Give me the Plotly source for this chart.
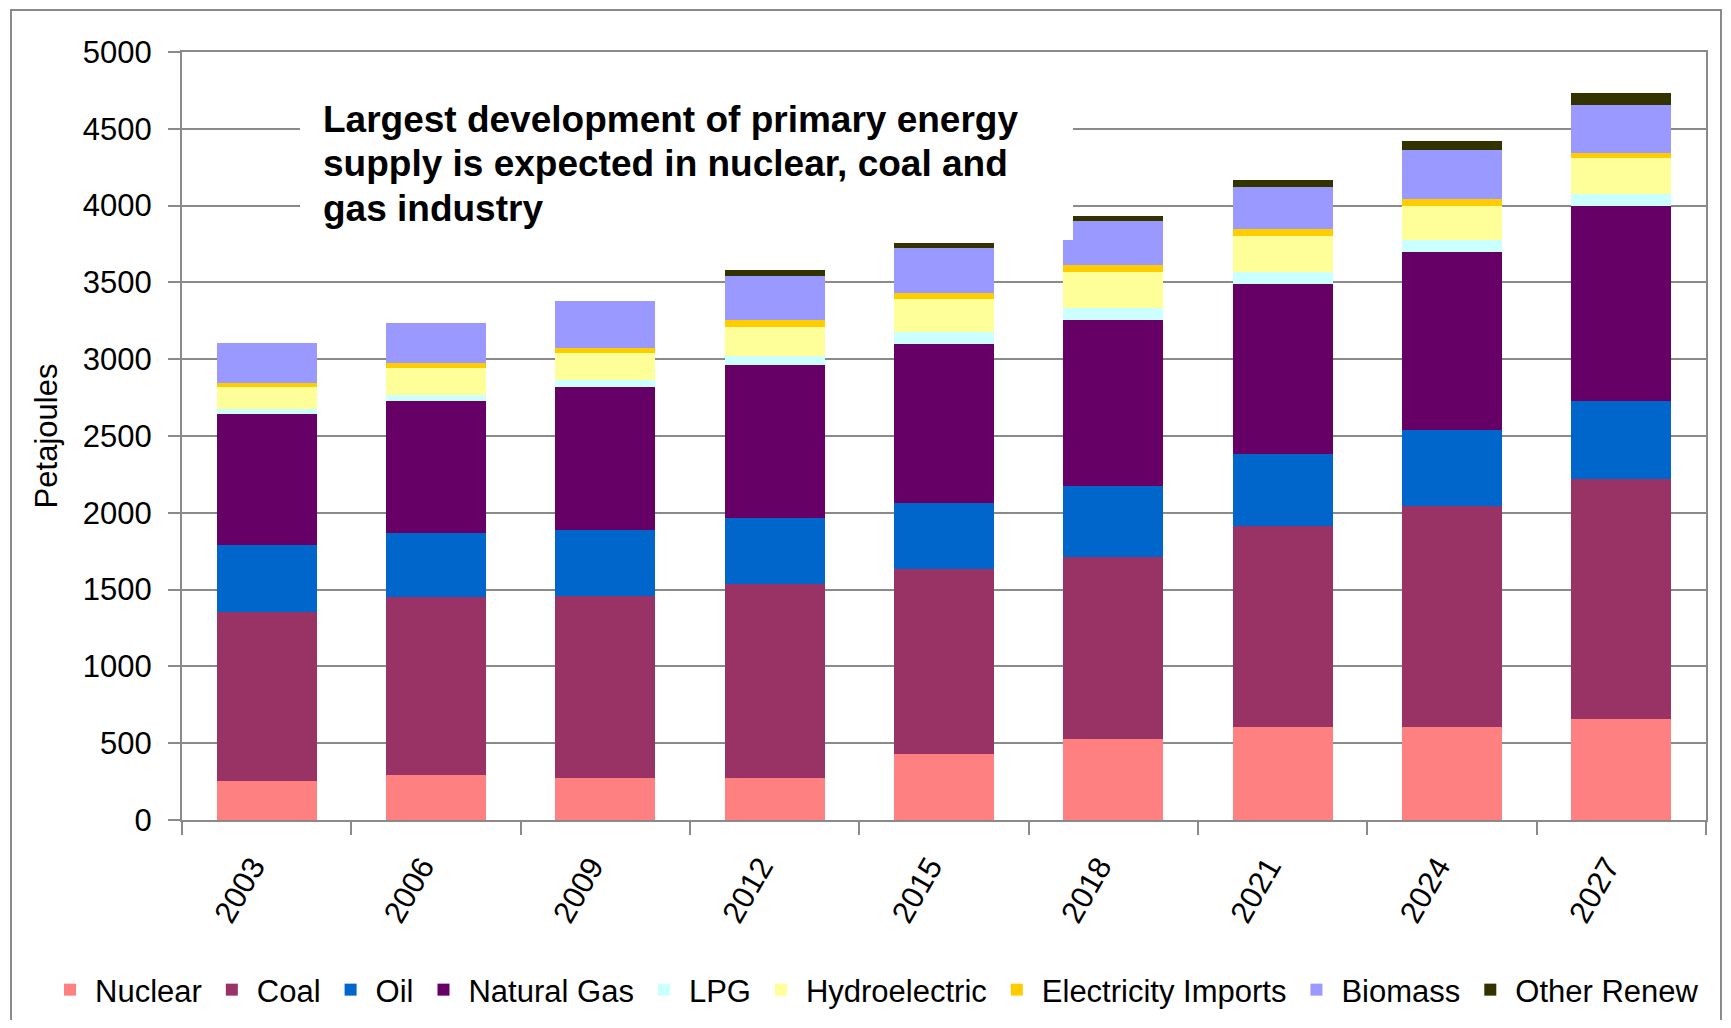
import plotly.graph_objects as go

years = ["2003", "2006", "2009", "2012", "2015", "2018", "2021", "2024", "2027"]

nuclear = [252, 295, 273, 273, 427, 527, 605, 605, 659]
coal = [1103, 1160, 1184, 1261, 1205, 1187, 1309, 1440, 1561]
oil = [436, 411, 429, 434, 434, 463, 470, 492, 507]
natural_gas = [851, 863, 933, 997, 1032, 1076, 1105, 1162, 1269]
lpg = [32, 38, 43, 55, 77, 79, 77, 80, 80]
hydro = [144, 178, 179, 192, 216, 233, 235, 219, 234]
elec_imports = [27, 32, 33, 43, 39, 46, 44, 43, 33]
biomass = [261, 260, 302, 289, 293, 289, 275, 324, 312]
other_renew = [0, 0, 0, 35, 32, 32, 44, 56, 76]

series = [
    ("Nuclear", nuclear, "#FF8080"),
    ("Coal", coal, "#993366"),
    ("Oil", oil, "#0066CC"),
    ("Natural Gas", natural_gas, "#660066"),
    ("LPG", lpg, "#CCFFFF"),
    ("Hydroelectric", hydro, "#FFFF99"),
    ("Electricity Imports", elec_imports, "#FFCC00"),
    ("Biomass", biomass, "#9999FF"),
    ("Other Renew", other_renew, "#333300"),
]

y_ticks = list(range(0, 5001, 500))

note_lines = [
    "Largest development of primary energy",
    "supply is expected in nuclear, coal and",
    "gas industry",
]

FONT = "Liberation Sans, Arial, sans-serif"
GRID = "#8a8a8a"
FS = 31

fig = go.Figure()
for name, vals, col in series:
    fig.add_trace(go.Bar(
        name=name, x=years, y=vals,
        marker=dict(color=col, line=dict(width=0)),
    ))

# page has an 8px body margin; figure coordinates = page coordinates - 8
OFF = 8
W, H = 1715, 1012
PL, PR, PT, PB = 182, 1706, 52, 820  # plot area in page pixels
L = PL - OFF
R = W - (PR - OFF)
T = PT - OFF
B = H - (PB - OFF)
pw, ph = W - L - R, H - T - B


def px(xp):
    return (xp - OFF - L) / pw


def py(yp):
    return (H - B - (yp - OFF)) / ph


line_y = [119, 163.5, 208]
annotations = [
    dict(
        xref="paper", yref="paper", x=px(321), y=py(yy), xanchor="left", yanchor="middle",
        align="left", showarrow=False,
        text="<b>" + t + "</b>",
        font=dict(family=FONT, size=37, color="black"),
    )
    for t, yy in zip(note_lines, line_y)
]

fig.update_layout(
    width=W, height=H,
    margin=dict(l=L, r=R, t=T, b=B, autoexpand=False),
    paper_bgcolor="white", plot_bgcolor="white",
    barmode="stack", bargap=0.41,
    font=dict(family=FONT, size=FS, color="black"),
    showlegend=True,
    legend=dict(
        orientation="h", traceorder="normal",
        x=px(45), xanchor="left", y=py(990), yanchor="middle",
        font=dict(family=FONT, size=FS, color="black"),
        bgcolor="rgba(0,0,0,0)",
        itemwidth=40,
    ),
    xaxis=dict(
        type="category", tickson="boundaries",
        ticks="outside", ticklen=13, tickwidth=2, tickcolor=GRID,
        showline=True, linecolor=GRID, linewidth=2, mirror=True,
        showgrid=False, tickangle=-60,
        tickfont=dict(family=FONT, size=FS, color="black"),
        ticklabelstandoff=14, ticklabelshift=-14,
        automargin=False,
    ),
    yaxis=dict(
        range=[0, 5000], tickvals=y_ticks,
        ticks="outside", ticklen=12, tickwidth=2, tickcolor=GRID,
        showline=True, linecolor=GRID, linewidth=2, mirror=True,
        showgrid=True, gridcolor=GRID, gridwidth=2,
        zeroline=False,
        tickfont=dict(family=FONT, size=FS, color="black"),
        ticklabelstandoff=10,
        title=dict(text="Petajoules", font=dict(family=FONT, size=FS, color="black"), standoff=16),
        automargin=False,
    ),
    shapes=[
        # outer chart border (drawn just inside the figure edges)
        dict(type="rect", xref="paper", yref="paper",
             x0=px(11), x1=px(1721), y0=py(1040), y1=py(10),
             line=dict(color=GRID, width=2), fillcolor="rgba(0,0,0,0)", layer="below"),
        # white text-box background
        dict(type="rect", xref="paper", yref="paper",
             x0=px(300), x1=px(1073), y0=py(240), y1=py(80),
             line=dict(width=0), fillcolor="white", layer="above"),
    ],
    annotations=annotations,
)

fig.write_html("out.html")
